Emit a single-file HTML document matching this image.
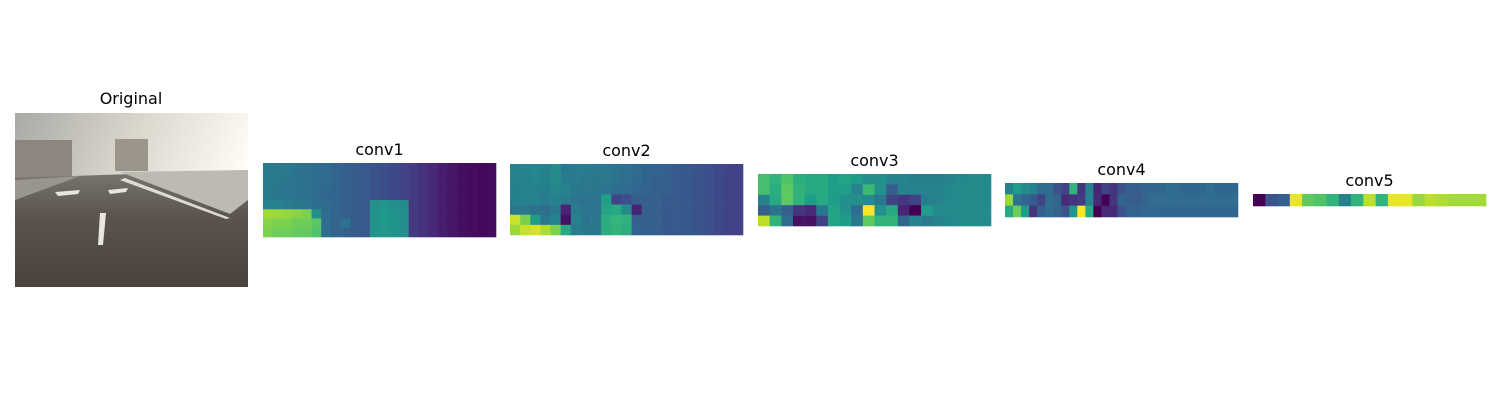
<!DOCTYPE html>
<html><head><meta charset="utf-8"><style>
html,body{margin:0;padding:0;background:#fff;}
svg{display:block;}
text{font-family:"DejaVu Sans","Liberation Sans",sans-serif;font-size:16px;fill:#000;}
</style></head><body>
<svg id="fig" width="1500" height="400">
<defs>
<linearGradient id="sky" x1="0" y1="0" x2="1" y2="0.3">
<stop offset="0" stop-color="#a9aaa6"/><stop offset="0.5" stop-color="#d9d6cc"/><stop offset="1" stop-color="#fffdf6"/></linearGradient>
<linearGradient id="road" x1="0" y1="0" x2="0" y2="1">
<stop offset="0" stop-color="#7a7670"/><stop offset="0.4" stop-color="#5a544c"/><stop offset="1" stop-color="#4a433b"/></linearGradient>
</defs>
<g>
<text x="131" y="104" text-anchor="middle">Original</text>
<rect x="15" y="113" width="233" height="174" fill="url(#sky)"/>
<rect x="15" y="140" width="57" height="40" fill="#8d8680"/>
<rect x="115" y="139" width="33" height="32" fill="#9c958c"/>
<polygon points="15,178 248,170 248,287 15,287" fill="url(#road)"/>
<polygon points="120,172 248,170 248,200 230,214" fill="#bdbab2"/>
<polygon points="15,180 80,176 15,200" fill="#9a958e"/>
<polygon points="100,213 106,213 103,245 98,245" fill="#e8e6e0"/>
<polygon points="55,192 80,190 78,194 58,196" fill="#e8e6e0"/>
<polygon points="108,190 128,188 126,192 110,194" fill="#e8e6e0"/>
<polygon points="125,178 230,218 226,219 120,180" fill="#dedbd4"/>
</g>
<g id="maps"></g>
</svg>
<script>
const viridisStops=[[68,1,84],[72,40,120],[62,74,137],[49,104,142],[38,130,142],[31,158,137],[53,183,121],[109,205,89],[180,222,44],[253,231,37]];
function viridis(v){v=Math.max(0,Math.min(1,v));const p=v*9,i=Math.min(8,Math.floor(p)),f=p-i;const a=viridisStops[i],b=viridisStops[i+1];return `rgb(${a.map((c,k)=>Math.round(c+(b[k]-c)*f)).join(',')})`;}

const conv1Values=[
[.42,.41,.40,.38,.36,.35,.34,.32,.30,.29,.28,.26,.24,.22,.20,.17,.14,.11,.08,.06,.04,.03,.02,.03],
[.42,.41,.40,.38,.37,.35,.34,.32,.30,.29,.28,.26,.24,.22,.20,.17,.14,.11,.08,.06,.04,.03,.02,.03],
[.41,.40,.39,.38,.37,.35,.34,.32,.30,.29,.28,.26,.24,.22,.20,.17,.14,.11,.08,.06,.04,.03,.02,.03],
[.41,.40,.39,.38,.37,.35,.33,.32,.30,.29,.28,.26,.24,.22,.20,.17,.14,.11,.08,.06,.04,.03,.02,.03],
[.45,.44,.42,.40,.38,.35,.34,.32,.30,.29,.28,.50,.52,.50,.48,.17,.14,.11,.08,.06,.04,.03,.02,.03],
[.86,.85,.84,.82,.80,.50,.36,.32,.30,.29,.28,.52,.54,.52,.50,.17,.14,.11,.08,.06,.04,.03,.02,.03],
[.82,.80,.80,.78,.78,.74,.36,.32,.38,.29,.28,.52,.54,.52,.50,.17,.14,.11,.08,.06,.04,.03,.02,.03],
[.80,.78,.78,.76,.76,.72,.36,.32,.30,.29,.28,.52,.53,.52,.50,.17,.14,.11,.08,.06,.04,.03,.02,.03]];
const conv2Values=[
[.45,.45,.46,.44,.48,.40,.42,.42,.40,.40,.38,.36,.34,.32,.32,.30,.28,.27,.26,.24,.22,.20,.20],
[.45,.44,.46,.44,.48,.42,.42,.40,.40,.40,.38,.36,.34,.32,.30,.30,.28,.27,.26,.24,.22,.20,.20],
[.44,.45,.44,.43,.46,.45,.40,.40,.40,.38,.36,.35,.33,.32,.30,.30,.28,.27,.26,.24,.22,.20,.20],
[.44,.44,.44,.42,.44,.42,.38,.38,.38,.56,.20,.24,.30,.30,.30,.28,.28,.27,.26,.24,.22,.20,.20],
[.40,.40,.38,.36,.40,.10,.42,.38,.38,.58,.60,.48,.10,.30,.30,.28,.28,.27,.26,.24,.22,.20,.20],
[.92,.80,.55,.40,.45,.05,.45,.38,.40,.62,.66,.64,.30,.30,.30,.28,.28,.27,.26,.24,.22,.20,.20],
[.85,.92,.94,.88,.80,.60,.42,.40,.40,.62,.65,.62,.32,.30,.30,.28,.28,.27,.26,.24,.22,.20,.20]];
const conv3Values=[
[.70,.65,.72,.62,.60,.60,.55,.58,.55,.50,.50,.45,.45,.43,.43,.43,.45,.47,.48,.48],
[.70,.62,.75,.65,.60,.60,.55,.55,.45,.68,.50,.30,.45,.45,.45,.45,.47,.48,.48,.48],
[.45,.60,.75,.65,.55,.60,.55,.50,.50,.48,.40,.20,.15,.20,.43,.45,.47,.48,.48,.48],
[.30,.38,.30,.15,.12,.40,.58,.50,.35,1.0,.50,.60,.10,.00,.55,.48,.48,.48,.48,.48],
[.90,.65,.35,.05,.05,.20,.58,.55,.40,.75,.65,.65,.33,.45,.42,.45,.47,.48,.48,.48]];
const conv4Values=[
[.45,.55,.47,.45,.35,.35,.25,.20,.65,.15,.45,.10,.20,.15,.25,.30,.30,.32,.32,.33,.35,.35,.33,.33,.33,.35,.33,.33,.33],
[.85,.38,.33,.28,.20,.35,.33,.12,.15,.18,.45,.12,.00,.15,.32,.30,.28,.32,.35,.35,.35,.35,.35,.35,.35,.35,.35,.35,.35],
[.60,.78,.55,.15,.30,.35,.32,.25,.52,1.0,.60,.00,.12,.12,.25,.32,.32,.33,.33,.33,.33,.33,.33,.33,.33,.33,.33,.33,.33]];
const conv5Values=[[0,.25,.30,.97,.75,.72,.65,.45,.65,.90,.65,.97,.97,.85,.90,.88,.86,.86,.86]];
const panelNames=["conv1","conv2","conv3","conv4","conv5"];
const panelData=[conv1Values,conv2Values,conv3Values,conv4Values,conv5Values];
const panelBoxes=[[263,163,233,74],[510,164,233,71],[758,174,233,52],[1005,183,233,34],[1253,194,233,12]];

const NS="http://www.w3.org/2000/svg";
const root=document.getElementById('maps');
panelData.forEach((grid,pi)=>{
  const [x0,y0,w,h]=panelBoxes[pi];
  const g=document.createElementNS(NS,'g');
  
  
  const t=document.createElementNS(NS,'text');
  t.setAttribute('x',x0+w/2);t.setAttribute('y',y0-8);t.setAttribute('text-anchor','middle');
  t.textContent=panelNames[pi];
  
  
  g.appendChild(t);
  const rows=grid.length,cols=grid[0].length,cw=w/cols,ch=h/rows;
  grid.forEach((row,r)=>row.forEach((v,c)=>{
    const rc=document.createElementNS(NS,'rect');
    rc.setAttribute('x',x0+c*cw);rc.setAttribute('y',y0+r*ch);
    rc.setAttribute('width',cw+0.3);rc.setAttribute('height',ch+0.3);
    rc.setAttribute('fill',viridis(v));
    
    
    g.appendChild(rc);
  }));
  root.appendChild(g);
});
</script>
</body></html>
